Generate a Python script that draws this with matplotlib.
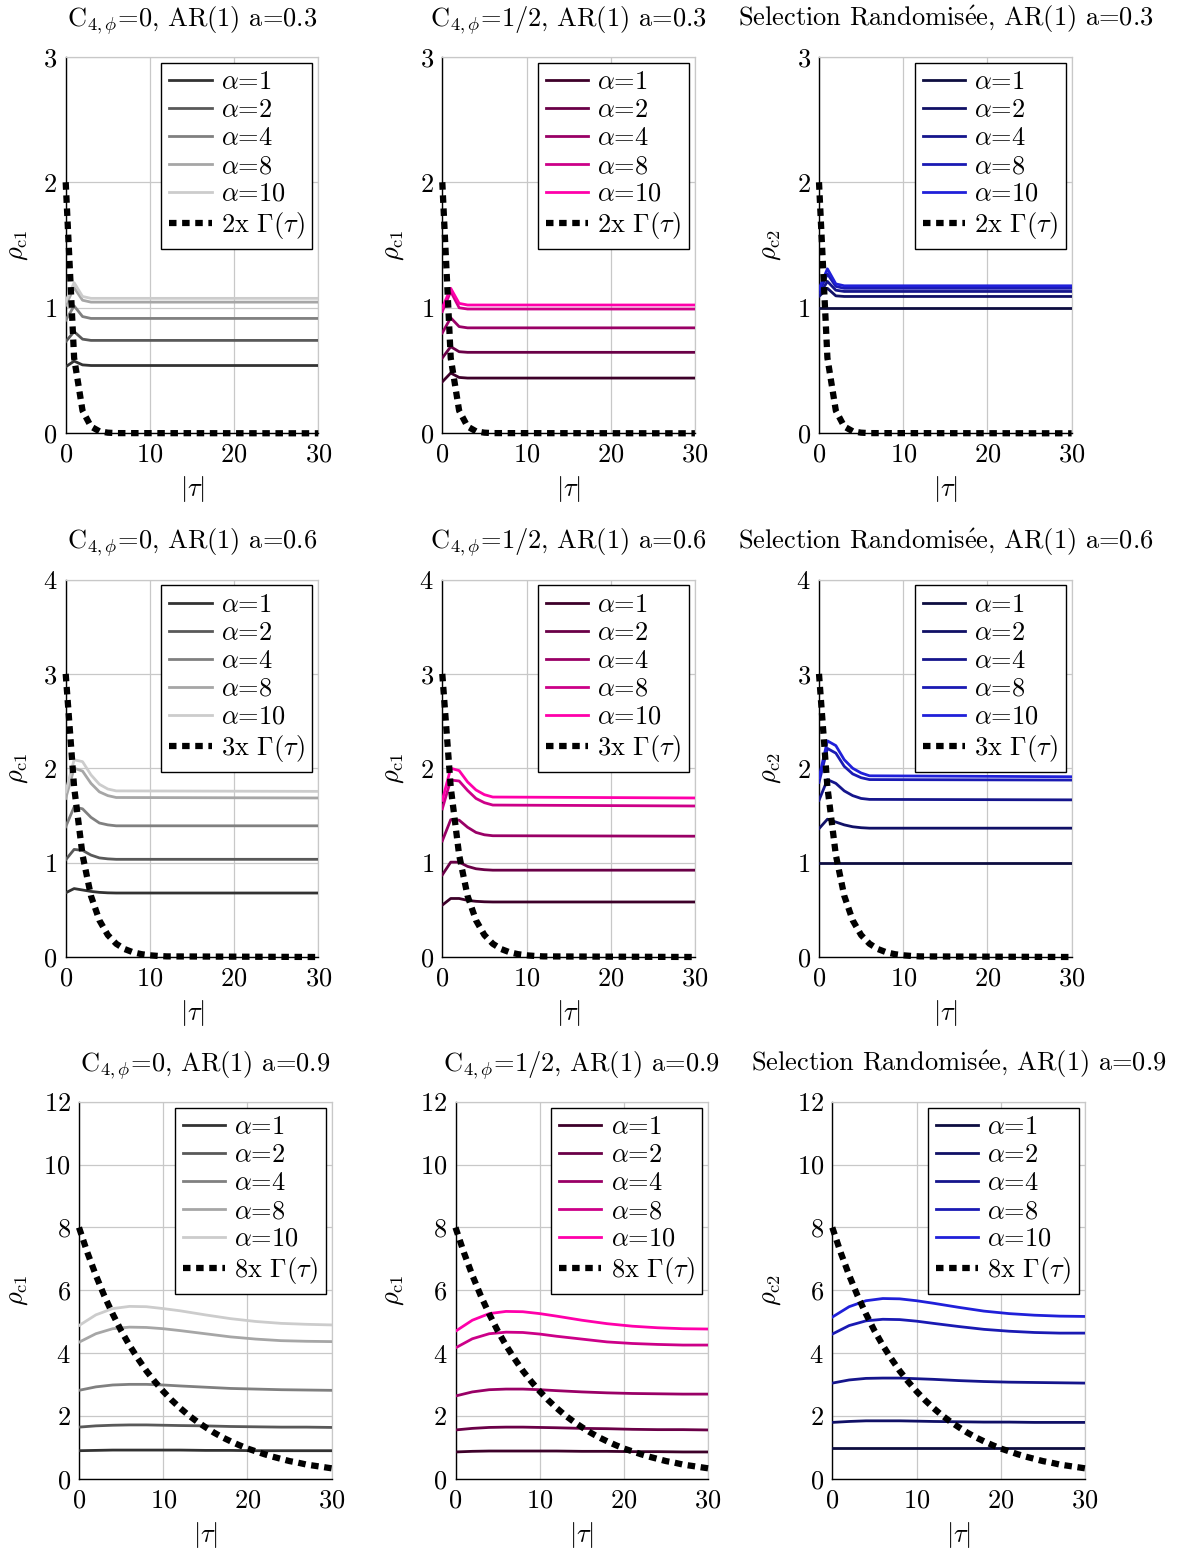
import matplotlib.pyplot as plt

plt.rcParams['font.family'] = 'serif'
plt.rcParams['font.serif'] = ['cmr10']
plt.rcParams['mathtext.fontset'] = 'cm'
plt.rcParams['axes.formatter.use_mathtext'] = True
plt.rcParams['font.size'] = 19

# ---- data ----
alphas = [1, 2, 4, 8, 10]

# a = 0.3 : transient over the first few lags, then flat
tau_03 = [0, 1, 2, 3, 30]
c0_03 = [[0.53, 0.575, 0.545, 0.54, 0.54],
         [0.73, 0.81, 0.75, 0.74, 0.74],
         [0.90, 1.015, 0.93, 0.915, 0.915],
         [1.02, 1.16, 1.06, 1.045, 1.045],
         [1.05, 1.20, 1.09, 1.075, 1.075]]
chalf_03 = [[0.41, 0.48, 0.445, 0.44, 0.44],
            [0.60, 0.69, 0.65, 0.645, 0.645],
            [0.80, 0.92, 0.85, 0.84, 0.84],
            [0.97, 1.13, 1.00, 0.99, 0.99],
            [1.00, 1.155, 1.035, 1.022, 1.022]]
rand_03 = [[1.0, 1.0, 1.0, 1.0, 1.0],
           [1.09, 1.155, 1.095, 1.09, 1.09],
           [1.10, 1.21, 1.14, 1.13, 1.13],
           [1.12, 1.27, 1.17, 1.155, 1.155],
           [1.15, 1.31, 1.19, 1.175, 1.175]]
gamma_tau_03 = [0, 1, 2, 3, 4, 5, 6, 30]
gamma_03 = [2.0, 0.6, 0.18, 0.054, 0.016, 0.005, 0.0015, 0.0]

# a = 0.6
tau_06 = [0, 1, 2, 3, 4, 5, 6, 30]
c0_06 = [[0.68, 0.725, 0.71, 0.695, 0.685, 0.68, 0.678, 0.678],
         [1.03, 1.14, 1.13, 1.08, 1.05, 1.04, 1.035, 1.035],
         [1.38, 1.59, 1.57, 1.48, 1.42, 1.40, 1.39, 1.39],
         [1.68, 2.00, 1.97, 1.84, 1.75, 1.71, 1.69, 1.685],
         [1.75, 2.09, 2.07, 1.93, 1.83, 1.78, 1.76, 1.755]]
chalf_06 = [[0.55, 0.62, 0.62, 0.60, 0.59, 0.585, 0.583, 0.583],
            [0.87, 1.005, 1.005, 0.96, 0.935, 0.925, 0.92, 0.92],
            [1.23, 1.455, 1.45, 1.375, 1.32, 1.295, 1.285, 1.28],
            [1.57, 1.875, 1.865, 1.765, 1.68, 1.635, 1.61, 1.60],
            [1.66, 2.00, 1.975, 1.855, 1.77, 1.72, 1.695, 1.685]]
rand_06 = [[1.0, 1.0, 1.0, 1.0, 1.0, 1.0, 1.0, 1.0],
           [1.36, 1.46, 1.43, 1.40, 1.38, 1.37, 1.365, 1.365],
           [1.66, 1.88, 1.84, 1.76, 1.71, 1.68, 1.67, 1.665],
           [1.85, 2.21, 2.16, 2.02, 1.94, 1.90, 1.88, 1.875],
           [1.90, 2.29, 2.24, 2.09, 2.00, 1.95, 1.92, 1.91]]
gamma_tau_06 = [0, 1, 2, 3, 4, 5, 6, 7, 8, 9, 10, 11, 12, 30]
gamma_06 = [3.0, 1.8, 1.08, 0.648, 0.389, 0.233, 0.14, 0.084, 0.05, 0.03,
            0.018, 0.011, 0.0065, 0.0]

# a = 0.9 : slow hump
tau_09 = [0, 2, 4, 6, 8, 10, 12, 15, 18, 21, 24, 27, 30]
c0_09 = [[0.90, 0.91, 0.92, 0.92, 0.92, 0.92, 0.92, 0.91, 0.91, 0.90, 0.90, 0.90, 0.90],
         [1.65, 1.69, 1.71, 1.72, 1.72, 1.71, 1.70, 1.69, 1.67, 1.66, 1.65, 1.65, 1.64],
         [2.82, 2.93, 2.99, 3.01, 3.01, 2.99, 2.96, 2.92, 2.88, 2.86, 2.84, 2.83, 2.82],
         [4.35, 4.62, 4.78, 4.83, 4.82, 4.78, 4.72, 4.62, 4.52, 4.45, 4.40, 4.38, 4.37],
         [4.88, 5.22, 5.42, 5.49, 5.48, 5.42, 5.35, 5.22, 5.10, 5.01, 4.95, 4.92, 4.90]]
chalf_09 = [[0.86, 0.88, 0.89, 0.89, 0.89, 0.89, 0.89, 0.88, 0.88, 0.87, 0.87, 0.86, 0.86],
            [1.56, 1.61, 1.64, 1.65, 1.65, 1.64, 1.63, 1.61, 1.60, 1.58, 1.57, 1.57, 1.56],
            [2.64, 2.77, 2.84, 2.86, 2.86, 2.84, 2.81, 2.77, 2.74, 2.72, 2.71, 2.70, 2.70],
            [4.17, 4.46, 4.62, 4.67, 4.66, 4.61, 4.54, 4.45, 4.36, 4.31, 4.28, 4.26, 4.26],
            [4.70, 5.05, 5.26, 5.33, 5.32, 5.26, 5.18, 5.05, 4.94, 4.86, 4.81, 4.78, 4.77]]
rand_09 = [[1.0] * 13,
           [1.80, 1.83, 1.85, 1.85, 1.85, 1.84, 1.83, 1.82, 1.81, 1.81, 1.80, 1.80, 1.80],
           [3.05, 3.15, 3.20, 3.21, 3.21, 3.19, 3.17, 3.13, 3.10, 3.08, 3.07, 3.06, 3.05],
           [4.61, 4.88, 5.03, 5.08, 5.07, 5.02, 4.95, 4.85, 4.76, 4.70, 4.66, 4.64, 4.64],
           [5.15, 5.48, 5.67, 5.74, 5.73, 5.67, 5.59, 5.46, 5.34, 5.26, 5.21, 5.18, 5.17]]
gamma_tau_09 = list(range(31))
gamma_09 = [8.0, 7.2, 6.48, 5.83, 5.25, 4.72, 4.25, 3.83, 3.44, 3.10, 2.79,
            2.51, 2.26, 2.03, 1.83, 1.65, 1.48, 1.33, 1.20, 1.08, 0.97,
            0.88, 0.79, 0.71, 0.64, 0.57, 0.52, 0.46, 0.42, 0.38, 0.34]

a_values = ['0.3', '0.6', '0.9']
gamma_scale = ['2x', '3x', '8x']
ymax = [3, 4, 12]
ystep = [1, 1, 2]

grays = ['#333333', '#595959', '#808080', '#a6a6a6', '#cccccc']
pinks = ['#3d0029', '#6a0047', '#990066', '#cc0088', '#ff00aa']
blues = ['#0d0d40', '#101066', '#15158c', '#1a1ab3', '#2020d9']

rows = [
    (tau_03, [c0_03, chalf_03, rand_03], gamma_tau_03, gamma_03),
    (tau_06, [c0_06, chalf_06, rand_06], gamma_tau_06, gamma_06),
    (tau_09, [c0_09, chalf_09, rand_09], gamma_tau_09, gamma_09),
]
col_titles = [r'C$_{4,\phi}$=0, AR(1) a=',
              r'C$_{4,\phi}$=1/2, AR(1) a=',
              r'Selection Randomis$\acute{\mathrm{e}}$e, AR(1) a=']
col_ylabels = [r'$\rho_{\mathrm{c1}}$', r'$\rho_{\mathrm{c1}}$', r'$\rho_{\mathrm{c2}}$']
col_colors = [grays, pinks, blues]

# ---- layout (pixels of the 1182x1552 picture) ----
W, H = 1182, 1552
lefts = [[65.7, 442.3, 819.0], [65.7, 442.3, 819.0], [79.0, 455.5, 832.3]]
tops = [56.7, 579.5, 1101.7]
bottoms = [433.3, 957.0, 1479.0]
ylab_off = [48, 48, 61]
axw = 252.6

fig = plt.figure(figsize=(W / 100, H / 100), dpi=100)

for r, (tau, cols, gtau, gvals) in enumerate(rows):
    axh = bottoms[r] - tops[r]
    for c in range(3):
        ax = fig.add_axes([lefts[r][c] / W, 1 - bottoms[r] / H, axw / W, axh / H])
        for k, a in enumerate(alphas):
            ax.plot(tau, cols[c][k], color=col_colors[c][k], lw=2,
                    label=r'$\alpha$=%d' % a, zorder=3)
        ax.plot(gtau, gvals, color='black', lw=4.5, ls=(0, (1.2, 0.9)),
                label=gamma_scale[r] + r' $\Gamma(\tau)$', zorder=4, clip_on=False)

        ax.set_xlim(0, 30)
        ax.set_ylim(0, ymax[r])
        ax.set_xticks([0, 10, 20, 30])
        ax.set_yticks(range(0, ymax[r] + 1, ystep[r]))
        ax.grid(True, color='#c8c8c8', lw=0.9)
        ax.set_axisbelow(True)
        for s in ['top', 'right']:
            ax.spines[s].set_color('#c8c8c8')
            ax.spines[s].set_linewidth(0.9)
        for s in ['left', 'bottom']:
            ax.spines[s].set_color('black')
            ax.spines[s].set_linewidth(1.0)
        ax.tick_params(length=0, labelsize=19)
        ax.tick_params(axis='x', pad=7)
        ax.tick_params(axis='y', pad=6)

        ax.set_title(col_titles[c] + a_values[r], fontsize=19, pad=22)
        ax.set_ylabel(col_ylabels[c], fontsize=19, va='center')
        ax.yaxis.set_label_coords(-ylab_off[r] / axw, 0.5)
        ax.set_xlabel(r'$|\tau|$', fontsize=19, va='center')
        ax.xaxis.set_label_coords(0.5, -56 / axh)

        leg = ax.legend(loc='upper right', fontsize=19, fancybox=False,
                        edgecolor='black', framealpha=1, borderaxespad=0.22,
                        handlelength=1.6, handletextpad=0.35, labelspacing=0.16,
                        borderpad=0.3)
        leg.get_frame().set_linewidth(1.0)

plt.savefig('out.png', dpi=100)
